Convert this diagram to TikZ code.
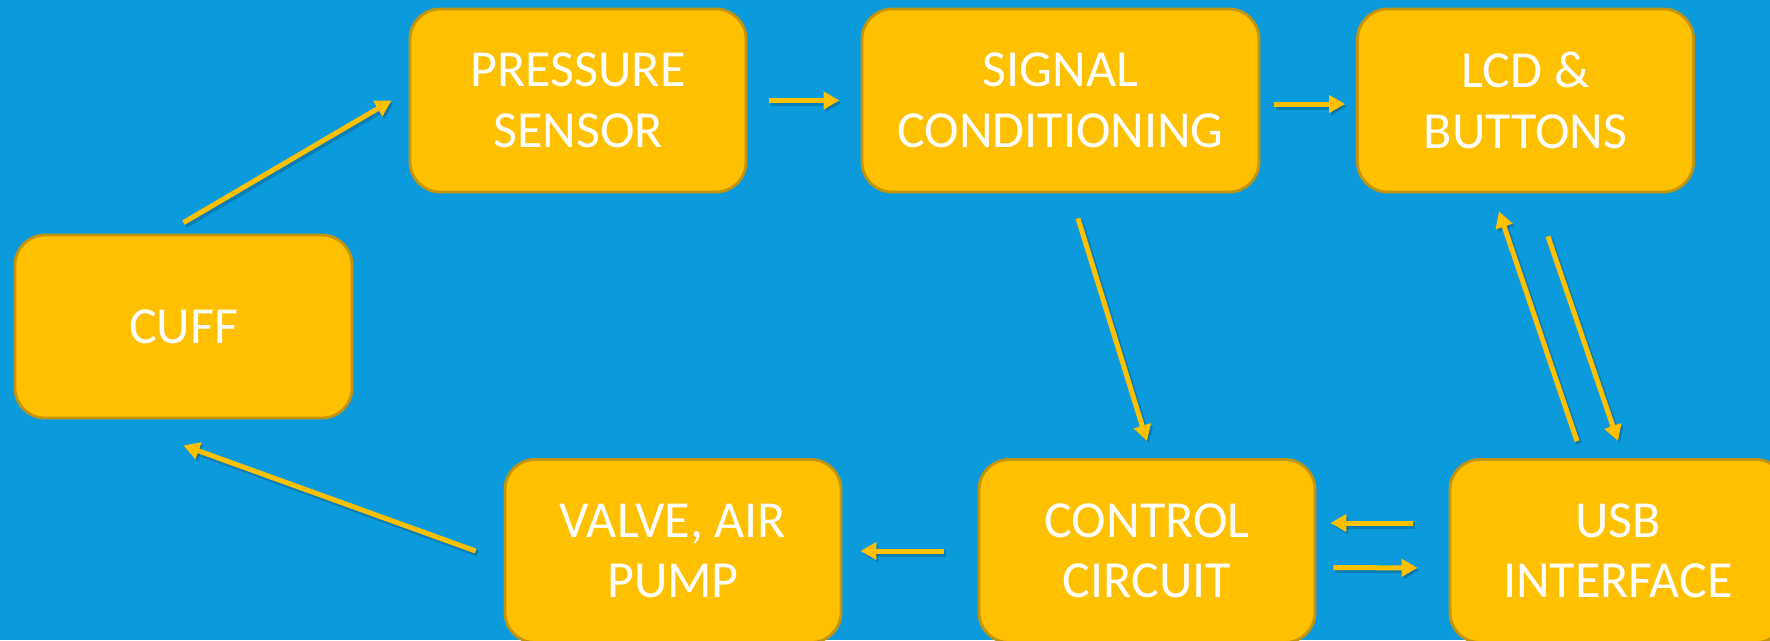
\documentclass[tikz,border=0pt]{standalone}
\usepackage{fontspec}
\setmainfont{Carlito}
\usepackage{tikz}
\definecolor{bpblue}{RGB}{11,155,221}
\definecolor{bpgold}{RGB}{255,192,0}
\definecolor{bpedge}{RGB}{196,148,10}
\definecolor{bpshade}{RGB}{8,70,110}
\usetikzlibrary{arrows.meta,positioning,calc}

\begin{document}
\begin{tikzpicture}[
  bpbox/.style={rectangle, rounded corners=0.3cm, draw=bpedge, line width=0.8pt,
               fill=bpgold, minimum width=3.36cm, minimum height=1.83cm,
               font=\fontsize{14.8}{17.2}\selectfont, align=center, text=white,
               inner sep=0pt},
  barr/.style={-{Triangle[length=0.16cm,width=0.17cm]}, line width=0.05cm, draw=bpgold,
               preaction={draw=bpshade, opacity=0.35, line width=0.06cm,
                          transform canvas={shift={(0.02,-0.025)}}}}
]
% Background
\fill[bpblue] (0,0) rectangle (17.7,-6.4);
\useasboundingbox (0,0) rectangle (17.7,-6.4);

% Top row
\node[bpbox] (pres) at ( 5.78,-1.005) {PRESSURE\\SENSOR};
\node[bpbox, minimum width=3.97cm] (sig) at (10.605,-1.005) {SIGNAL\\CONDITIONING};
\node[bpbox] (lcd)  at (15.255,-1.005) {LCD \&\\BUTTONS};

% Cuff
\node[bpbox, minimum width=3.37cm] (cuff) at (1.835,-3.265) {CUFF};

% Bottom row
\node[bpbox] (valve) at ( 6.73,-5.51) {VALVE, AIR\\PUMP};
\node[bpbox] (ctrl)  at (11.47,-5.51) {CONTROL\\CIRCUIT};
\node[bpbox] (usb)   at (16.18,-5.51) {USB\\INTERFACE};

% Arrows
\draw[barr] ($(cuff.north)+(0,0.11)$) -- ($(pres.west)+(-0.17,0.0)$);
\draw[barr, shorten <=0.22cm, shorten >=0.21cm] (pres.east) -- (sig.west);
\draw[barr, shorten <=0.14cm, shorten >=0.11cm] ([yshift=-0.035cm]sig.east) -- ([yshift=-0.035cm]lcd.west);
\draw[barr] ($(sig.south)+(0.175,-0.25)$) -- ($(ctrl.north)+(0,0.17)$);
\draw[barr] ($(lcd.south)+(0.225,-0.43)$) -- ($(usb.north)+(0,0.17)$);
\draw[barr] ($(usb.north)+(-0.41,0.17)$) -- ($(lcd.south)+(-0.265,-0.18)$);
\draw[barr, shorten <=0.36cm, shorten >=0.14cm] ([yshift=0.28cm]usb.west) -- ([yshift=0.28cm]ctrl.east);
\draw[barr, shorten <=0.17cm, shorten >=0.31cm] ([yshift=-0.165cm]ctrl.east) -- ([yshift=-0.17cm]usb.west);
\draw[barr, shorten <=0.34cm, shorten >=0.18cm] (ctrl.west) -- (valve.east);
\draw[barr] ($(valve.west)+(-0.28,0)$) -- ($(cuff.south)+(0,-0.26)$);
\end{tikzpicture}
\end{document}
